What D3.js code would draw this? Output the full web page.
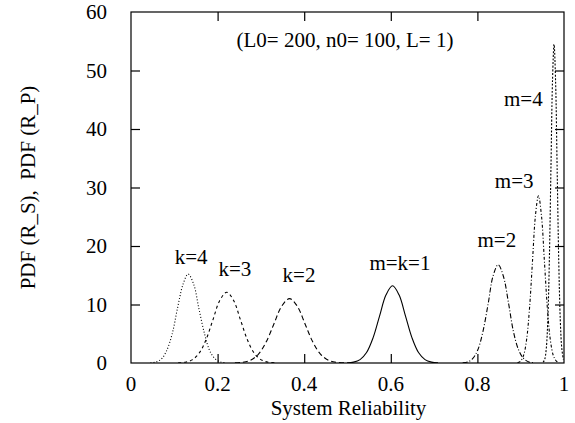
<!DOCTYPE html>
<html>
<head>
<meta charset="utf-8">
<script src="https://cdn.jsdelivr.net/npm/d3@7/dist/d3.min.js"></script>
<style>
  body { margin: 0; background: #fff; }
  svg { display: block; }
  text { font-family: "Liberation Serif", "DejaVu Serif", serif; font-size: 21px; fill: #000; }
</style>
</head>
<body>
<svg id="chart" width="575" height="423"></svg>
<script>
// ---- data ----
const xTicks = [0, 0.2, 0.4, 0.6, 0.8, 1];
const xTickLabels = ["0", "0.2", "0.4", "0.6", "0.8", "1"];
const yTicks = [0, 10, 20, 30, 40, 50, 60];
const yTickLabels = ["0", "10", "20", "30", "40", "50", "60"];

const seriesNames = ["k=4", "k=3", "k=2", "m=k=1", "m=2", "m=3", "m=4"];

const k4X = [0.045, 0.057, 0.070, 0.082, 0.095, 0.107, 0.120, 0.132, 0.145, 0.157, 0.170, 0.182, 0.195, 0.207, 0.220];
const k4Y = [0.03, 0.17, 0.67, 2.06, 4.94, 9.22, 13.41, 15.2, 13.41, 9.22, 4.94, 2.06, 0.67, 0.17, 0.03];

const k3X = [0.109, 0.125, 0.141, 0.157, 0.173, 0.189, 0.205, 0.221, 0.237, 0.253, 0.269, 0.285, 0.301, 0.317, 0.333];
const k3Y = [0.03, 0.13, 0.53, 1.64, 3.93, 7.34, 10.68, 12.1, 10.68, 7.34, 3.93, 1.64, 0.53, 0.13, 0.03];

const k2X = [0.240, 0.258, 0.276, 0.294, 0.312, 0.330, 0.348, 0.366, 0.384, 0.402, 0.420, 0.438, 0.456, 0.474, 0.492];
const k2Y = [0.02, 0.12, 0.48, 1.49, 3.57, 6.67, 9.71, 11.0, 9.71, 6.67, 3.57, 1.49, 0.48, 0.12, 0.02];

const mk1X = [0.499, 0.514, 0.529, 0.544, 0.559, 0.574, 0.589, 0.604, 0.619, 0.634, 0.649, 0.664, 0.679, 0.694, 0.709];
const mk1Y = [0.03, 0.15, 0.58, 1.79, 4.29, 8.01, 11.65, 13.2, 11.65, 8.01, 4.29, 1.79, 0.58, 0.15, 0.03];

const m2X = [0.766, 0.778, 0.789, 0.801, 0.813, 0.825, 0.836, 0.848, 0.860, 0.872, 0.883, 0.895, 0.907, 0.919, 0.930];
const m2Y = [0.04, 0.19, 0.74, 2.27, 5.45, 10.19, 14.83, 16.8, 14.83, 10.19, 5.45, 2.27, 0.74, 0.19, 0.04];

const m3X = [0.8927, 0.8996, 0.9065, 0.9134, 0.9203, 0.9272, 0.9341, 0.941, 0.9479, 0.9548, 0.9617, 0.9686, 0.9755, 0.9824, 0.9893];
const m3Y = [0.06, 0.32, 1.26, 3.87, 9.29, 17.35, 25.24, 28.6, 25.24, 17.35, 9.29, 3.87, 1.26, 0.32, 0.06];

const m4X = [0.9518, 0.9554, 0.9590, 0.9626, 0.9662, 0.9698, 0.9734, 0.9770, 0.9806, 0.9842, 0.9878, 0.9914, 0.9950, 0.9986];
const m4Y = [0.12, 0.60, 2.39, 7.37, 17.70, 33.05, 48.10, 54.5, 48.10, 33.05, 17.70, 7.37, 2.39, 0.60];

// label anchor points in data units (centre x, baseline y)
const labelX = [0.139, 0.240, 0.388, 0.621, 0.845, 0.885, 0.906];
const labelY = [16.9, 14.9, 13.9, 15.9, 19.9, 30.0, 43.9];

// ---- layout ----
const margin = { left: 131, right: 11, top: 12, bottom: 60 };
const W = 575, H = 423;
const x = d3.scaleLinear().domain([0, 1]).range([margin.left, W - margin.right]);
const y = d3.scaleLinear().domain([0, 60]).range([H - margin.bottom, margin.top]);

const svg = d3.select("#chart");

svg.append("defs").append("clipPath").attr("id", "plotclip")
  .append("rect")
  .attr("x", x(0)).attr("y", y(60))
  .attr("width", x(1) - x(0)).attr("height", y(0) - y(60));

const tickLen = 9;
const axisG = svg.append("g");

// bottom & top ticks (inward)
axisG.append("g").attr("transform", `translate(0,${y(0)})`)
  .call(d3.axisBottom(x).tickValues(xTicks.slice(1, -1)).tickSize(-tickLen).tickFormat(""))
  .call(g => g.select(".domain").remove());
axisG.append("g").attr("transform", `translate(0,${y(60)})`)
  .call(d3.axisTop(x).tickValues(xTicks.slice(1, -1)).tickSize(-tickLen).tickFormat(""))
  .call(g => g.select(".domain").remove());
// left & right ticks (inward)
axisG.append("g").attr("transform", `translate(${x(0)},0)`)
  .call(d3.axisLeft(y).tickValues(yTicks.slice(1, -1)).tickSize(-tickLen).tickFormat(""))
  .call(g => g.select(".domain").remove());
axisG.append("g").attr("transform", `translate(${x(1)},0)`)
  .call(d3.axisRight(y).tickValues(yTicks.slice(1, -1)).tickSize(-tickLen).tickFormat(""))
  .call(g => g.select(".domain").remove());
axisG.selectAll(".tick line").attr("stroke", "#000").attr("stroke-width", 1.2);

// frame
svg.append("rect")
  .attr("x", x(0)).attr("y", y(60))
  .attr("width", x(1) - x(0)).attr("height", y(0) - y(60))
  .attr("fill", "none").attr("stroke", "#000").attr("stroke-width", 1.2);

// tick labels
svg.append("g").selectAll("text").data(xTicks).join("text")
  .attr("x", d => x(d)).attr("y", y(0) + 28)
  .attr("text-anchor", "middle")
  .text((d, i) => xTickLabels[i]);
svg.append("g").selectAll("text").data(yTicks).join("text")
  .attr("x", x(0) - 24).attr("y", d => y(d) + 7)
  .attr("text-anchor", "end")
  .text((d, i) => yTickLabels[i]);

// axis titles
svg.append("text")
  .attr("x", (x(0) + x(1)) / 2 + 1).attr("y", 414.5)
  .attr("text-anchor", "middle")
  .text("System Reliability");
svg.append("text")
  .attr("transform", `translate(35,${(y(0) + y(60)) / 2}) rotate(-90)`)
  .attr("text-anchor", "middle")
  .attr("xml:space", "preserve")
  .text("PDF (R_S),  PDF (R_P)");

// title
svg.append("text")
  .attr("x", 345).attr("y", 47)
  .attr("text-anchor", "middle")
  .text("(L0= 200, n0= 100, L= 1)");

// curves
const seriesX = [k4X, k3X, k2X, mk1X, m2X, m3X, m4X];
const seriesY = [k4Y, k3Y, k2Y, mk1Y, m2Y, m3Y, m4Y];
const dashes = ["1,2", "3,3", "5,3", null, "5,2,1,2", "3,2,1,2", "2,1.6"];

const line = d3.line()
  .x(d => x(d[0])).y(d => y(d[1]))
  .curve(d3.curveCatmullRom.alpha(0.5));

const curves = svg.append("g").attr("clip-path", "url(#plotclip)");
seriesX.forEach((xs, i) => {
  const pts = xs.map((v, j) => [v, seriesY[i][j]]);
  curves.append("path")
    .datum(pts)
    .attr("d", line)
    .attr("fill", "none")
    .attr("stroke", "#000")
    .attr("stroke-width", 1.1)
    .attr("stroke-dasharray", dashes[i]);
});

// curve labels
svg.append("g").selectAll("text").data(seriesNames).join("text")
  .attr("x", (d, i) => x(labelX[i]))
  .attr("y", (d, i) => y(labelY[i]))
  .attr("text-anchor", "middle")
  .text(d => d);
</script>
</body>
</html>
